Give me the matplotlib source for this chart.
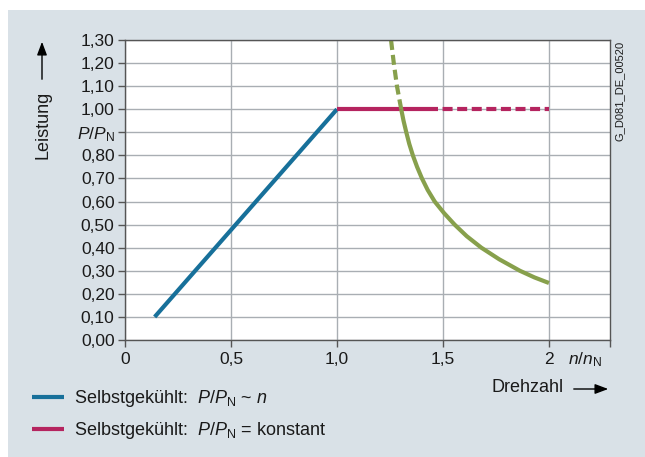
import matplotlib
matplotlib.use("Agg")
import matplotlib.pyplot as plt
from matplotlib.patches import Rectangle, FancyArrowPatch

plt.rcParams['font.family'] = ['Liberation Sans', 'DejaVu Sans']
plt.rcParams['mathtext.fontset'] = 'custom'
plt.rcParams['mathtext.rm'] = 'Liberation Sans'
plt.rcParams['mathtext.it'] = 'Liberation Sans:italic'

# data
blue_n = [0.14, 1.0]
blue_p = [0.10, 1.0]

mag_solid_n = [1.0, 1.43]
mag_solid_p = [1.0, 1.0]
mag_dash_n = [1.43, 2.0]
mag_dash_p = [1.0, 1.0]

green_dash_n = [1.255, 1.268, 1.283, 1.303]
green_dash_p = [1.30, 1.20, 1.10, 1.00]
green_n = [1.303, 1.314, 1.327, 1.341, 1.358, 1.378, 1.401, 1.428, 1.461,
           1.505, 1.555, 1.612, 1.681, 1.765, 1.863, 1.932, 2.0]
green_p = [1.000, 0.950, 0.900, 0.850, 0.800, 0.750, 0.700, 0.650, 0.600,
           0.550, 0.500, 0.450, 0.400, 0.350, 0.300, 0.271, 0.247]

x_ticks = [0, 0.5, 1.0, 1.5, 2.0]
x_labels = ['0', '0,5', '1,0', '1,5', '2']
y_ticks = [0.0, 0.1, 0.2, 0.3, 0.4, 0.5, 0.6, 0.7, 0.8, 0.9, 1.0, 1.1, 1.2, 1.3]
y_labels = ['0,00', '0,10', '0,20', '0,30', '0,40', '0,50', '0,60', '0,70',
            '0,80', r'$P/P_\mathrm{N}$', '1,00', '1,10', '1,20', '1,30']

BLUE = '#17709a'
MAG = '#b5245f'
GREEN = '#87a04c'
BG = '#d9e1e7'
TXT = '#1a1a1a'

W, H = 645, 457
fig = plt.figure(figsize=(W / 100, H / 100), dpi=100, facecolor='white')
fig.patches.append(Rectangle((8 / W, 0), 1, 1 - 10 / H, transform=fig.transFigure,
                             facecolor=BG, edgecolor='none', zorder=-10))

ax = fig.add_axes([125 / W, 1 - 340 / H, 485 / W, 300 / H])
ax.set_facecolor('white')
ax.set_xlim(0, 2.288)
ax.set_ylim(0, 1.3)

ax.set_xticks(x_ticks)
ax.set_xticklabels(x_labels)
ax.set_xticks([2.288], minor=True)
ax.set_yticks(y_ticks)
ax.set_yticklabels(y_labels)
ax.tick_params(axis='both', which='both', direction='out', length=5, width=1,
               colors='#555555', labelsize=12.5, labelcolor=TXT)
ax.tick_params(axis='y', pad=2.5)
ax.tick_params(axis='x', pad=3.5)
ax.grid(True, which='major', color='#a9aeb3', linewidth=1)
ax.set_axisbelow(True)
for s in ax.spines.values():
    s.set_color('#555555')
    s.set_linewidth(1)

lw = 3.0
l_blue, = ax.plot(blue_n, blue_p, color=BLUE, lw=lw, solid_capstyle='butt')
l_mag, = ax.plot(mag_solid_n, mag_solid_p, color=MAG, lw=lw, solid_capstyle='butt')
ax.plot(mag_dash_n, mag_dash_p, color=MAG, lw=lw, dashes=(2.4, 1.1),
        dash_capstyle='butt')
ax.plot(green_dash_n, green_dash_p, color=GREEN, lw=lw, dashes=(2.4, 1.2),
        dash_capstyle='butt')
ax.plot(green_n, green_p, color=GREEN, lw=lw, solid_capstyle='butt',
        solid_joinstyle='round')

# x-axis unit label in the tick row
ax.text(2.17, -0.035, r'$n/n_\mathrm{N}$', transform=ax.get_xaxis_transform(),
        ha='center', va='top', fontsize=12.5, color=TXT)

# axis titles with arrows
fig.text(43 / W, 1 - 125 / H, 'Leistung', rotation=90, ha='center', va='center',
         fontsize=13, color=TXT)
fig.add_artist(FancyArrowPatch(
    (42 / W, 1 - 82 / H), (42 / W, 1 - 39 / H), transform=fig.transFigure,
    arrowstyle='-|>,head_length=8,head_width=3', color='black', lw=1))
fig.text(528 / W, 1 - 387 / H, 'Drehzahl', ha='center', va='center',
         fontsize=13, color=TXT)
fig.add_artist(FancyArrowPatch(
    (571 / W, 1 - 389 / H), (611 / W, 1 - 389 / H), transform=fig.transFigure,
    arrowstyle='-|>,head_length=8,head_width=3', color='black', lw=1))

# drawing number
fig.text(620 / W, 1 - 91 / H, 'G_D081_DE_00520', rotation=90, ha='center',
         va='center', fontsize=8, color=TXT)

fig.legend([l_blue, l_mag],
           [r'Selbstgekühlt:  $P/P_\mathrm{N}$ ~ $n$',
            r'Selbstgekühlt:  $P/P_\mathrm{N}$ = konstant'],
           loc='upper left', bbox_to_anchor=(32 / W, 1 - 388 / H),
           frameon=False, fontsize=13, handlelength=1.75, handletextpad=0.55,
           borderpad=0, borderaxespad=0, labelspacing=0.62,
           labelcolor=TXT)

fig.savefig('out.png', dpi=100, facecolor='white')
